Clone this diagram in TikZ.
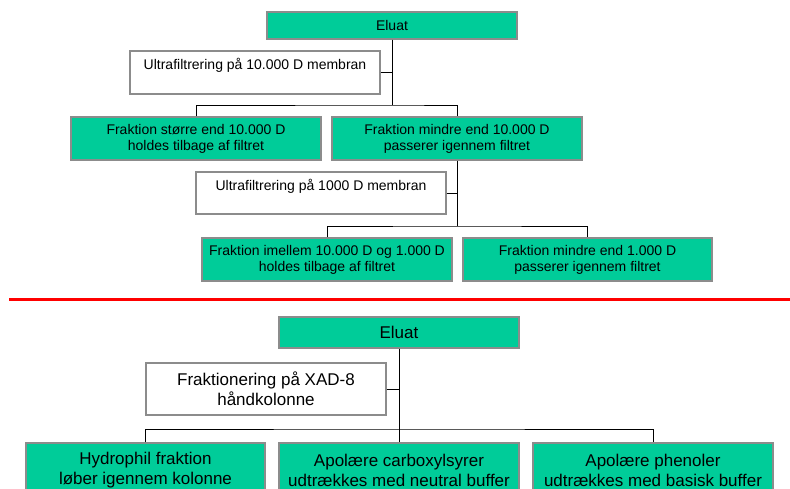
\documentclass[tikz,border=0pt]{standalone}
\usepackage{fontspec}
\setmainfont{Liberation Sans}
\definecolor{boxgreen}{RGB}{0,204,153}
\definecolor{boxedge}{RGB}{140,140,140}
\begin{document}
\begin{tikzpicture}[x=1pt,y=-1pt,
  gbox/.style={draw=boxedge, line width=1.3pt, fill=boxgreen, inner sep=0pt, align=center},
  wbox/.style={draw=boxedge, line width=1.3pt, fill=white, inner sep=0pt, align=center},
  ftop/.style={font=\fontsize{14}{16}\selectfont},
  fbot/.style={font=\fontsize{17}{20}\selectfont},
  conn/.style={draw=black, line width=0.9pt}]
\useasboundingbox (0,0) rectangle (790,488);
\clip (0,0) rectangle (790,488);
\fill[white] (0,0) rectangle (790,488);

% ---------- top diagram ----------
\node[gbox, ftop, minimum width=250, minimum height=27] (e1) at (392,25.5) {Eluat};
\node[wbox, minimum width=250, minimum height=43] (u1) at (255,72.5) {};
\node[ftop, anchor=base, inner sep=0pt] (u1t) at (255,69) {Ultrafiltrering på 10.000 D membran};
\node[gbox, ftop, minimum width=250, minimum height=43] (f1) at (196,138.5) {Fraktion større end 10.000 D\\holdes tilbage af filtret};
\node[gbox, ftop, minimum width=250, minimum height=43] (f2) at (457,138.5) {Fraktion mindre end 10.000 D\\passerer igennem filtret};
\node[wbox, minimum width=250, minimum height=42] (u2) at (321,193) {};
\node[ftop, anchor=base, inner sep=0pt] (u2t) at (321,190) {Ultrafiltrering på 1000 D membran};
\node[gbox, ftop, minimum width=250, minimum height=43] (f3) at (327,259.5) {Fraktion imellem 10.000 D og 1.000 D\\holdes tilbage af filtret};
\node[gbox, ftop, minimum width=249, minimum height=43] (f4) at (587.5,259.5) {Fraktion mindre end 1.000 D\\passerer igennem filtret};

\coordinate (b1) at (392,105);
\coordinate (b2) at (457,226);
\draw[conn] (e1.south) -- (b1);
\draw[conn] (u1.east) -- (u1.east -| b1);
\draw[conn] (f1.north) |- (b1) -| (f2.north);
\draw[conn] (f2.south) -- (b2);
\draw[conn] (u2.east) -- (u2.east -| b2);
\draw[conn] (f3.north) |- (b2) -| (f4.north);

% ---------- separator ----------
\coordinate (r1) at (9,299);
\coordinate (r2) at (790,299);
\draw[red, line width=3pt] (r1) -- (r2);

% ---------- bottom diagram ----------
\node[gbox, fbot, minimum width=240, minimum height=31] (e2) at (399,332.5) {Eluat};
\node[wbox, fbot, minimum width=240, minimum height=52] (x1) at (266,389) {Fraktionering på XAD-8\\håndkolonne};
\node[gbox, fbot, minimum width=239, minimum height=55] (h1) at (145.5,470.5) {Hydrophil fraktion\\løber igennem kolonne};
\node[gbox, fbot, minimum width=240, minimum height=55] (h2) at (399,470.5) {Apolære carboxylsyrer\\udtrækkes med neutral buffer};
\node[gbox, fbot, minimum width=240, minimum height=55] (h3) at (653,470.5) {Apolære phenoler\\udtrækkes med basisk buffer};

\coordinate (b3) at (399,429);
\draw[conn] (e2.south) -- (h2.north);
\draw[conn] (x1.east) -- (x1.east -| b3);
\draw[conn] (h1.north) |- (b3) -| (h3.north);
\end{tikzpicture}
\end{document}
